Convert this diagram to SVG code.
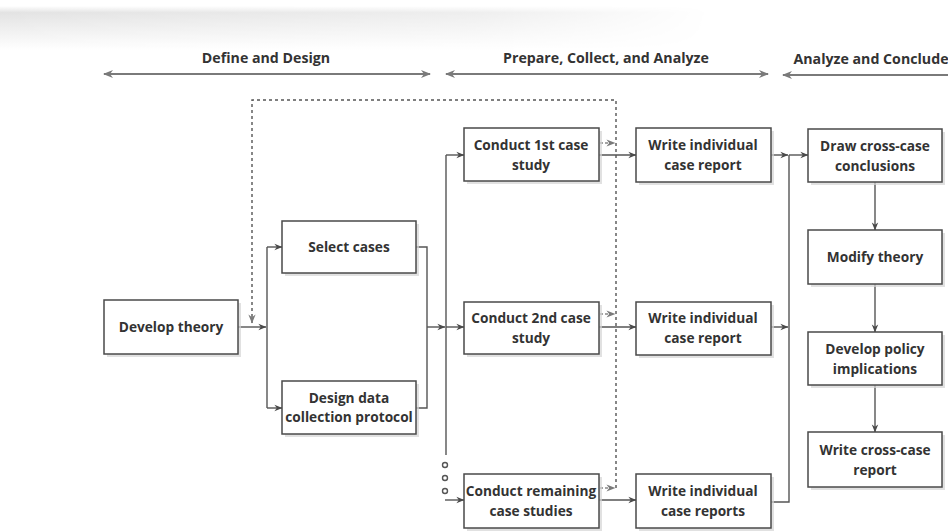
<svg xmlns="http://www.w3.org/2000/svg" width="948" height="532" viewBox="0 0 948 532">
<style>
.box{fill:#fff;stroke:#4a4a4a;stroke-width:1.5}
.shadow{fill:#d4d4d4;opacity:0.7}
.t{font-family:"Open Sans","Noto Sans","Liberation Sans",sans-serif;font-weight:bold;font-size:13.7px;fill:#333;text-anchor:middle}
.h{font-family:"Open Sans","Noto Sans","Liberation Sans",sans-serif;font-weight:bold;font-size:14.2px;fill:#333;text-anchor:middle}
.c{fill:none;stroke:#555;stroke-width:1.4}
.d{fill:none;stroke:#555;stroke-width:1.4;stroke-dasharray:3 3}
.dg{fill:none;stroke:#888;stroke-width:1.4;stroke-dasharray:3 2}
.ha{fill:none;stroke:#7a7a7a;stroke-width:2}
</style>
<defs>
<linearGradient id="bandV" x1="0" y1="0" x2="0" y2="1">
<stop offset="0" stop-color="#ffffff"/>
<stop offset="0.15" stop-color="#e3e3e3"/>
<stop offset="1" stop-color="#ffffff"/>
</linearGradient>
<linearGradient id="bandH" x1="0" y1="0" x2="1" y2="0">
<stop offset="0" stop-color="#fff" stop-opacity="1"/>
<stop offset="0.5" stop-color="#fff" stop-opacity="0.6"/>
<stop offset="0.75" stop-color="#fff" stop-opacity="0"/>
</linearGradient>
<mask id="bandMask"><rect x="0" y="0" width="948" height="60" fill="url(#bandH)"/></mask>
<marker id="ah" viewBox="0 0 10 10" refX="9.5" refY="5" markerWidth="9" markerHeight="8" orient="auto" markerUnits="userSpaceOnUse">
<path d="M0,1 L10,5 L0,9 L3,5 z" fill="#4a4a4a"/>
</marker>
<marker id="ahg" viewBox="0 0 10 10" refX="9.5" refY="5" markerWidth="10" markerHeight="9" orient="auto" markerUnits="userSpaceOnUse">
<path d="M0,1 L10,5 L0,9 L3,5 z" fill="#7a7a7a"/>
</marker>
<marker id="hh" viewBox="0 0 10 10" refX="9" refY="5" markerWidth="14" markerHeight="10" orient="auto-start-reverse" markerUnits="userSpaceOnUse">
<path d="M0,1 L10,5 L0,9 L3,5 z" fill="#7a7a7a"/>
</marker>
</defs>
<rect width="948" height="532" fill="#fff"/>
<rect x="0" y="6" width="948" height="44" fill="url(#bandV)" mask="url(#bandMask)"/>

<g id="headings">
<text class="h" x="266" y="63">Define and Design</text>
<text class="h" x="606" y="63">Prepare, Collect, and Analyze</text>
<text class="h" x="871" y="64">Analyze and Conclude</text>
<path class="ha" d="M104,74 H430" marker-start="url(#hh)" marker-end="url(#hh)"/>
<path class="ha" d="M446,74 H768" marker-start="url(#hh)" marker-end="url(#hh)"/>
<path class="ha" d="M783,75 H952" marker-start="url(#hh)"/>
</g>

<g id="connectors">
<path class="d" d="M616,488 V100 H252 V323" marker-end="url(#ahg)"/>
<path class="dg" d="M600,143 H615" marker-end="url(#ahg)"/>
<path class="dg" d="M600,314 H615" marker-end="url(#ahg)"/>
<path class="dg" d="M600,488 H615" marker-end="url(#ahg)"/>
<path class="c" d="M238,327 H266" marker-end="url(#ah)"/>
<path class="c" d="M267,247 V408"/>
<path class="c" d="M267,247 H282" marker-end="url(#ah)"/>
<path class="c" d="M267,408 H282" marker-end="url(#ah)"/>
<path class="c" d="M416,247 H427 V408 H416"/>
<path class="c" d="M427,327 H445" marker-end="url(#ah)"/>
<path class="c" d="M446,155 V455"/>
<path class="c" d="M446,155 H464" marker-end="url(#ah)"/>
<path class="c" d="M446,327 H464" marker-end="url(#ah)"/>
<circle class="c" cx="445" cy="465" r="2.5"/>
<circle class="c" cx="445" cy="478" r="2.5"/>
<circle class="c" cx="445" cy="491" r="2.5"/>
<path class="c" d="M445,500 H464" marker-end="url(#ah)"/>
<path class="c" d="M599,155 H636" marker-end="url(#ah)"/>
<path class="c" d="M599,327 H636" marker-end="url(#ah)"/>
<path class="c" d="M599,500 H636" marker-end="url(#ah)"/>
<path class="c" d="M771,155 H788" marker-end="url(#ah)"/>
<path class="c" d="M771,327 H788" marker-end="url(#ah)"/>
<path class="c" d="M771,502 H789 V155"/>
<path class="c" d="M789,155 H808" marker-end="url(#ah)"/>
<path class="c" d="M875,182 V230" marker-end="url(#ah)"/>
<path class="c" d="M875,284 V332" marker-end="url(#ah)"/>
<path class="c" d="M875,385 V432" marker-end="url(#ah)"/>
</g>

<g id="develop-theory">
<rect class="shadow" x="107" y="303" width="134" height="54"/>
<rect class="box" x="104" y="300" width="134" height="54"/>
<text class="t" x="171" y="332">Develop theory</text>
</g>
<g id="select-cases">
<rect class="shadow" x="285" y="224" width="134" height="52"/>
<rect class="box" x="282" y="221" width="134" height="52"/>
<text class="t" x="349" y="252">Select cases</text>
</g>
<g id="design-protocol">
<rect class="shadow" x="285" y="384" width="134" height="53"/>
<rect class="box" x="282" y="381" width="134" height="53"/>
<text class="t" x="349" y="403">Design data</text>
<text class="t" x="349" y="422">collection protocol</text>
</g>
<g id="conduct-1st">
<rect class="shadow" x="467" y="131" width="135" height="53"/>
<rect class="box" x="464" y="128" width="135" height="53"/>
<text class="t" x="531" y="150">Conduct 1st case</text>
<text class="t" x="531" y="170">study</text>
</g>
<g id="conduct-2nd">
<rect class="shadow" x="467" y="305" width="135" height="52"/>
<rect class="box" x="464" y="302" width="135" height="52"/>
<text class="t" x="531" y="323">Conduct 2nd case</text>
<text class="t" x="531" y="343">study</text>
</g>
<g id="conduct-remaining">
<rect class="shadow" x="467" y="477" width="135" height="54"/>
<rect class="box" x="464" y="474" width="135" height="54"/>
<text class="t" x="531" y="496">Conduct remaining</text>
<text class="t" x="531" y="516">case studies</text>
</g>
<g id="write-report-1">
<rect class="shadow" x="639" y="131" width="135" height="54"/>
<rect class="box" x="636" y="128" width="135" height="54"/>
<text class="t" x="703" y="150">Write individual</text>
<text class="t" x="703" y="170">case report</text>
</g>
<g id="write-report-2">
<rect class="shadow" x="639" y="305" width="135" height="53"/>
<rect class="box" x="636" y="302" width="135" height="53"/>
<text class="t" x="703" y="323">Write individual</text>
<text class="t" x="703" y="343">case report</text>
</g>
<g id="write-reports">
<rect class="shadow" x="639" y="477" width="135" height="54"/>
<rect class="box" x="636" y="474" width="135" height="54"/>
<text class="t" x="703" y="496">Write individual</text>
<text class="t" x="703" y="516">case reports</text>
</g>
<g id="draw-conclusions">
<rect class="shadow" x="811" y="132" width="134" height="53"/>
<rect class="box" x="808" y="129" width="134" height="53"/>
<text class="t" x="875" y="151">Draw cross-case</text>
<text class="t" x="875" y="171">conclusions</text>
</g>
<g id="modify-theory">
<rect class="shadow" x="811" y="233" width="134" height="54"/>
<rect class="box" x="808" y="230" width="134" height="54"/>
<text class="t" x="875" y="262">Modify theory</text>
</g>
<g id="policy-implications">
<rect class="shadow" x="811" y="335" width="134" height="53"/>
<rect class="box" x="808" y="332" width="134" height="53"/>
<text class="t" x="875" y="354">Develop policy</text>
<text class="t" x="875" y="374">implications</text>
</g>
<g id="cross-case-report">
<rect class="shadow" x="811" y="435" width="134" height="55"/>
<rect class="box" x="808" y="432" width="134" height="55"/>
<text class="t" x="875" y="455">Write cross-case</text>
<text class="t" x="875" y="475">report</text>
</g>
</svg>
